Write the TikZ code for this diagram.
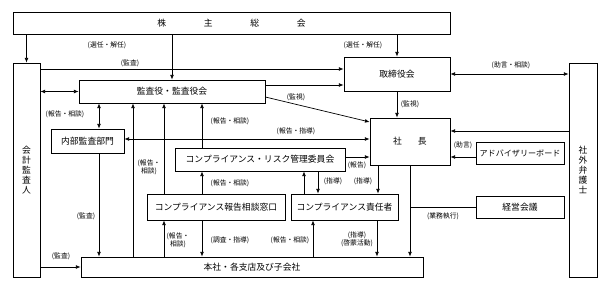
\documentclass[tikz,border=0pt]{standalone}
\usepackage{fontspec}
\setmainfont{Noto Sans CJK JP}
\usetikzlibrary{arrows.meta}

\begin{document}
\begin{tikzpicture}[x=0.03cm, y=-0.03cm, line width=0.6pt,
    >={Latex[length=4pt,width=3.2pt]},
    box/.style 2 args={draw, inner sep=0pt, minimum width=#1*0.03cm,
      minimum height=#2*0.03cm, font=\fontsize{7.5}{8.5}\selectfont, align=center},
    lbl/.style={inner sep=0pt, font=\fontsize{5.8}{6.8}\selectfont, align=center}]
  \useasboundingbox (0,0) rectangle (609,293);

  % boxes
  \node[box={437}{22}] (ab) at (231.5,23) {株\hspace{1.13cm}主\hspace{1.13cm}総\hspace{1.13cm}会};
  \node[box={27}{214}] (kk) at (26.5,170) {会\\計\\監\\査\\人};
  \node[box={28}{214}] (bg) at (583,170) {社\\外\\弁\\護\\士};
  \node[box={186}{23}] (kan) at (172,91.5) {監査役・監査役会};
  \node[box={106}{34}] (tor) at (397,74) {取締役会};
  \node[box={80}{47}] (sha) at (410,141.5) {社\hspace{0.48cm}長};
  \node[box={73}{24}] (nai) at (87.5,141) {内部監査部門};
  \node[box={170}{23}] (cr) at (260,159.5) {コンプライアンス・リスク管理委員会};
  \node[box={138}{26}] (mado) at (216,207) {コンプライアンス報告相談窓口};
  \node[box={107}{26}] (sek) at (344.5,207) {コンプライアンス責任者};
  \node[box={88}{22}, font=\fontsize{6.9}{8}\selectfont] (adv) at (520,153) {アドバイザリーボード};
  \node[box={88}{22}] (kei) at (520,207) {経営会議};
  \node[box={342}{20}] (hon) at (252,267) {本社・各支店及び子会社};

  % connectors
  \draw[->] (ab.south -| kk) -- (kk.north);
  \draw[->] (ab.south -| kan) -- (kan.north);
  \draw[->] (ab.south -| tor) -- (tor.north);
  \draw[->] (kk.east |- 0,69) -- (tor.west |- 0,69);
  \draw[->] (kan.east |- 0,85) -- (tor.west |- 0,85);
  \draw[->] (kan.east |- 0,97) -- (sha.west |- 0,122);
  \draw[<->] (kk.east |- kan.west) -- (kan.west);
  \draw[<->] (kan.south -| 99,0) -- (nai.north -| 99,0);
  \draw[<->] (tor.east) -- (bg.west |- tor.east);
  \draw[->] (tor.south) -- (tor.south |- sha.north);
  \draw[->] (bg.west |- 0,131) -- (sha.east |- 0,131);
  \draw[<->] (sha.west |- 0,139) -- (nai.east |- 0,139);
  \draw[->] (adv.west |- 0,157) -- (sha.east |- 0,157);
  \draw[->] (cr.east |- 0,157) -- (sha.west |- 0,157);
  \draw[->] (cr.south -| 318,0) -- (sek.north -| 318,0);
  \draw[->] (sek.north -| 304,0) -- (cr.south -| 304,0);
  \draw[->] (sha.south -| 378,0) -- (sek.north -| 378,0);
  \draw[->] (sha.south) -- (sha.south |- hon.north);
  \draw (kei.west) -- (kei.west -| sha.south);
  \draw[->] (sek.south -| 377,0) -- (hon.north -| 377,0);
  \draw[->] (hon.north -| 313,0) -- (sek.south -| 313,0);
  \draw[->] (hon.north -| 164,0) -- (mado.south -| 164,0);
  \draw[->] (mado.south -| 202,0) -- (hon.north -| 202,0);
  \draw[->] (mado.north -| 202,0) -- (cr.south -| 202,0);
  \draw[->] (cr.north -| 202,0) -- (kan.south -| 202,0);
  \draw[->] (mado.north -| 164,0) -- (kan.south -| 164,0);
  \draw[->] (hon.north -| 133,0) -- (kan.south -| 133,0);
  \draw[->] (nai.south -| 99,0) -- (hon.north -| 99,0);
  \draw[->] (kk.east |- hon) -- (hon.west);

  % labels
  \node[lbl] (l1) at (107,45) {(選任・解任)};
  \node[lbl] (l2) at (363,45) {(選任・解任)};
  \node[lbl] (l3) at (130,63) {(監査)};
  \node[lbl] (l4) at (296,97) {(監視)};
  \node[lbl] (l5) at (511,65) {(助言・相談)};
  \node[lbl] (l6) at (410,104) {(監視)};
  \node[lbl] (l7) at (65,114) {(報告・相談)};
  \node[lbl] (l8) at (296,131) {(報告・指導)};
  \node[lbl] (l9) at (230,121) {(報告・相談)};
  \node[lbl] (l10) at (463,145) {(助言)};
  \node[lbl] (l11) at (149,167) {(報告・\\相談)};
  \node[lbl] (l12) at (357,165) {(報告)};
  \node[lbl] (l13) at (230,183) {(報告・相談)};
  \node[lbl] (l14) at (333,181) {(指導)};
  \node[lbl] (l15) at (363,181) {(指導)};
  \node[lbl] (l16) at (86,216) {(監査)};
  \node[lbl] (l17) at (443,216) {(業務執行)};
  \node[lbl] (l18) at (178,240) {(報告・\\相談)};
  \node[lbl] (l19) at (230,240) {(調査・指導)};
  \node[lbl] (l20) at (290,240) {(報告・相談)};
  \node[lbl] (l21) at (357,239) {(指導)\\(啓蒙活動)};
  \node[lbl] (l22) at (61,256) {(監査)};
\end{tikzpicture}
\end{document}
